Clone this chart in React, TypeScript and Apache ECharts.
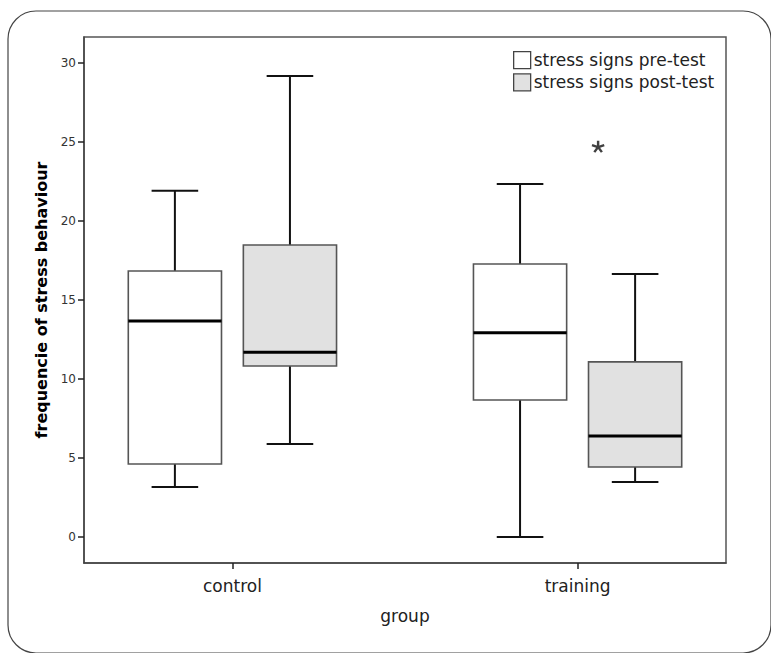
import React, { useEffect, useRef } from 'react';
import * as echarts from 'echarts';

// ---- data ----
const groups = ['control', 'training'];
const groupPositions = [0, 1];
const seriesNames = ['stress signs pre-test', 'stress signs post-test'];
// each box: [min, Q1, median, Q3, max]
const preTest = [
  [3.16, 4.62, 13.67, 16.84, 21.92],
  [0.0, 8.67, 12.93, 17.28, 22.34],
];
const postTest = [
  [5.89, 10.82, 11.7, 18.48, 29.18],
  [3.48, 4.43, 6.39, 11.08, 16.65],
];
// extreme outliers of post-test: [group index, value]
const postOutliers = [[1, 24.7]];
const yTicks = [0, 5, 10, 15, 20, 25, 30];

// ---- layout / style constants ----
const BOX_OFFSET = 1 / 6; // dodge of each series within a group (axis units)
const BOX_WIDTH = 0.27; // axis units
const FONT = 'DejaVu Sans';

function asteriskPath(): string {
  const arms = 5;
  const w = 0.38;
  const d = w / 2 / Math.sin(Math.PI / arms);
  const pts: number[][] = [];
  for (let i = 0; i < arms; i++) {
    const a = -Math.PI / 2 + (i * 2 * Math.PI) / arms;
    const ca = Math.cos(a);
    const sa = Math.sin(a);
    const px = -sa;
    const py = ca;
    pts.push([ca - (px * w) / 2, sa - (py * w) / 2]);
    pts.push([ca + (px * w) / 2, sa + (py * w) / 2]);
    const b = a + Math.PI / arms;
    pts.push([Math.cos(b) * d, Math.sin(b) * d]);
  }
  return (
    'path://M' +
    pts.map((p) => (p[0] * 10).toFixed(3) + ' ' + (p[1] * 10).toFixed(3)).join(' L') +
    ' Z'
  );
}

function makeBoxSeries(name: string, boxes: number[][], offset: number, fill: string) {
  const data = boxes.map((b, i) => [groupPositions[i] + offset, ...b]);
  return {
    type: 'custom',
    name,
    data,
    encode: { x: 0, y: [1, 2, 3, 4, 5] },
    itemStyle: { color: fill, borderColor: '#444' },
    renderItem: (params: any, api: any) => {
      const x = api.value(0);
      const pMin = api.coord([x, api.value(1)]);
      const yQ1 = api.coord([x, api.value(2)])[1];
      const yMed = api.coord([x, api.value(3)])[1];
      const yQ3 = api.coord([x, api.value(4)])[1];
      const yMax = api.coord([x, api.value(5)])[1];
      const cx = pMin[0];
      const yMin = pMin[1];
      const bw = api.size([BOX_WIDTH, 0])[0];
      const hw = bw / 2;
      const cap = bw / 4;
      const black = { stroke: '#111', lineWidth: 2 };
      return {
        type: 'group',
        children: [
          { type: 'line', shape: { x1: cx, y1: yMax, x2: cx, y2: yQ3 }, style: black },
          { type: 'line', shape: { x1: cx, y1: yQ1, x2: cx, y2: yMin }, style: black },
          { type: 'line', shape: { x1: cx - cap, y1: yMax, x2: cx + cap, y2: yMax }, style: black },
          { type: 'line', shape: { x1: cx - cap, y1: yMin, x2: cx + cap, y2: yMin }, style: black },
          {
            type: 'rect',
            shape: { x: cx - hw, y: yQ3, width: bw, height: yQ1 - yQ3 },
            style: { fill, stroke: '#555', lineWidth: 1.6 },
          },
          {
            type: 'line',
            shape: { x1: cx - hw, y1: yMed, x2: cx + hw, y2: yMed },
            style: { stroke: '#000', lineWidth: 3 },
          },
        ],
      };
    },
  };
}

export default function App() {
  const ref = useRef<HTMLDivElement>(null);

  useEffect(() => {
    if (!ref.current) return;
    const chart = echarts.init(ref.current, undefined, { renderer: 'svg' });
    const option: any = {
      animation: false,
      backgroundColor: '#fff',
      textStyle: { fontFamily: FONT },
      graphic: [
        {
          type: 'rect',
          shape: { x: 8, y: 11, width: 763, height: 642, r: 28 },
          style: { fill: 'none', stroke: '#444', lineWidth: 1.2 },
          silent: true,
          z: 0,
        },
      ],
      grid: {
        left: 84,
        right: 45,
        top: 37,
        bottom: 90,
        show: true,
        borderColor: '#555',
        borderWidth: 1.5,
        backgroundColor: 'transparent',
      },
      legend: {
        orient: 'vertical',
        left: 513,
        top: 51,
        padding: 0,
        itemWidth: 17,
        itemHeight: 17,
        itemGap: 4,
        selectedMode: false,
        icon: 'rect',
        textStyle: { fontFamily: FONT, fontSize: 17, color: '#222', padding: [0, 0, 0, -2] },
        data: [
          { name: seriesNames[0], itemStyle: { color: '#ffffff', borderColor: '#444', borderWidth: 1.3 } },
          { name: seriesNames[1], itemStyle: { color: '#e1e1e1', borderColor: '#444', borderWidth: 1.3 } },
        ],
      },
      xAxis: {
        type: 'value',
        min: -0.43,
        max: 1.43,
        splitLine: { show: false },
        axisLine: { show: true, onZero: false, lineStyle: { color: '#444', width: 1.5 } },
        axisTick: {
          show: true,
          customValues: groupPositions,
          length: 6,
          lineStyle: { color: '#222', width: 1.5 },
        },
        axisLabel: {
          customValues: groupPositions,
          formatter: (v: number) => groups[groupPositions.indexOf(Math.round(v))] ?? '',
          fontFamily: FONT,
          fontSize: 17,
          color: '#222',
          margin: 14,
        },
        name: 'group',
        nameLocation: 'middle',
        nameGap: 44,
        nameTextStyle: { fontFamily: FONT, fontSize: 17, color: '#222' },
      },
      yAxis: {
        type: 'value',
        min: -1.65,
        max: 31.65,
        splitLine: { show: false },
        axisLine: { show: true, onZero: false, lineStyle: { color: '#444', width: 1.5 } },
        axisTick: {
          show: true,
          customValues: yTicks,
          length: 6,
          lineStyle: { color: '#222', width: 1.5 },
        },
        axisLabel: {
          customValues: yTicks,
          fontFamily: FONT,
          fontSize: 12,
          color: '#333',
          margin: 8,
        },
        name: 'frequencie of stress behaviour',
        nameLocation: 'middle',
        nameGap: 31,
        nameTextStyle: { fontFamily: FONT, fontSize: 16, fontWeight: 'bold', color: '#000' },
      },
      series: [
        makeBoxSeries(seriesNames[0], preTest, -BOX_OFFSET, '#ffffff'),
        makeBoxSeries(seriesNames[1], postTest, BOX_OFFSET, '#e1e1e1'),
        {
          type: 'scatter',
          name: 'outliers',
          data: postOutliers.map((o) => [groupPositions[o[0]] + BOX_OFFSET, o[1]]),
          symbol: asteriskPath(),
          symbolSize: [13, 12],
          symbolOffset: [-37, 0],
          itemStyle: { color: '#111' },
          z: 5,
        },
      ],
    };
    chart.setOption(option);
    return () => chart.dispose();
  }, []);

  return (
    <div
      ref={ref}
      style={{ position: 'absolute', left: 0, top: 0, width: 771, height: 653 }}
    />
  );
}
